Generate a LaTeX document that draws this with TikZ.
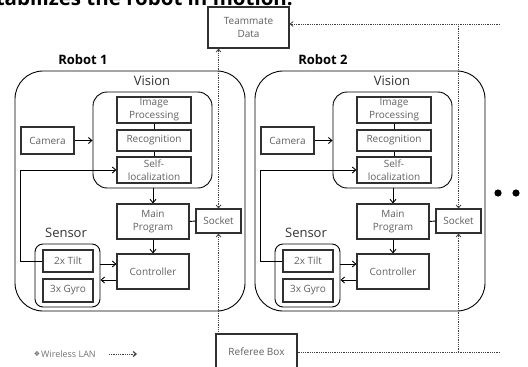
\documentclass[tikz,border=0pt]{standalone}
\usepackage{fontspec}
\setmainfont{Open Sans}
\newfontfamily\symfont{DejaVu Sans}
\usetikzlibrary{arrows.meta,calc}
\definecolor{txtgray}{HTML}{606060}
\definecolor{boxline}{HTML}{303030}
\definecolor{langray}{HTML}{404040}
\begin{document}
\begin{tikzpicture}[x=1pt,y=-1pt,
  box/.style={draw=boxline,line width=1.1pt,inner sep=0pt,align=center,text=txtgray,
    font=\fontsize{10}{13}\selectfont},
  cont/.style={draw=black,line width=0.9pt,inner sep=0pt},
  lbl/.style={text=black!80,font=\fontsize{13}{15}\selectfont,inner sep=0pt},
  rlbl/.style={text=black,font=\bfseries\fontsize{13}{15}\selectfont,inner sep=0pt},
  arr/.style={draw=black,line width=0.9pt,-{Straight Barb[length=3.5pt,width=6pt]}},
  link/.style={draw=black,line width=0.9pt},
  lan/.style={draw=langray,line width=0.8pt,densely dotted},
  lantip/.style={-{Straight Barb[length=3pt,width=5pt]}},
]
\useasboundingbox (0,0) rectangle (528,367);

% heading (cropped at the top)
\node[anchor=base east,inner sep=0pt,font=\bfseries\fontsize{20.5}{24}\selectfont] (head) at (293,5.5) {stabilizes the robot in motion.};

% teammate data and referee box
\node[box,minimum width=81pt,minimum height=41pt] (team) at (248.5,27.5) {Teammate\\Data};
\node[box,minimum width=81pt,minimum height=36pt] (ref) at (256.5,352) {Referee Box};

\foreach \i/\dx in {1/0,2/240}{
  \node[cont,rounded corners=28pt,minimum width=230pt,minimum height=240pt] (rob\i) at (130+\dx,191) {};
  \node[rlbl] (rl\i) at (83+\dx,60) {Robot \i};
  \node[cont,rounded corners=14pt,minimum width=119pt,minimum height=96pt] (vis\i) at (152.5+\dx,140) {};
  \node[lbl] (vl\i) at (152+\dx,81) {Vision};
  \node[box,minimum width=74pt,minimum height=26pt] (imgp\i) at (154+\dx,110) {Image\\Processing};
  \node[box,minimum width=74pt,minimum height=21pt] (rec\i) at (154+\dx,140.5) {Recognition};
  \node[box,minimum width=74pt,minimum height=26pt] (self\i) at (154+\dx,170) {Self-\\localization};
  \node[box,minimum width=53pt,minimum height=27pt] (cam\i) at (47.5+\dx,140.5) {Camera};
  \node[box,minimum width=72pt,minimum height=35pt] (main\i) at (153+\dx,221.5) {Main\\Program};
  \node[box,minimum width=45pt,minimum height=24pt] (sock\i) at (218.5+\dx,221) {Socket};
  \node[box,minimum width=72pt,minimum height=35pt] (ctrl\i) at (153+\dx,271.5) {Controller};
  \node[cont,rounded corners=8pt,minimum width=65pt,minimum height=63pt] (sens\i) at (67.5+\dx,275.5) {};
  \node[lbl] (sl\i) at (66+\dx,233) {Sensor};
  \node[box,minimum width=50pt,minimum height=22pt] (tilt\i) at (68+\dx,261) {2x Tilt};
  \node[box,minimum width=50pt,minimum height=23pt] (gyro\i) at (68+\dx,290.5) {3x Gyro};

  \draw[link] (imgp\i.south) -- (rec\i.north);
  \draw[link] (rec\i.south) -- (self\i.north);
  \draw[arr] (cam\i.east) -- (cam\i.east -| vis\i.west);
  \draw[arr] (tilt\i.west) -- (tilt\i.west -| cam\i.west) |- (self\i.west);
  \draw[arr] (main\i.north |- vis\i.south) -- (main\i.north);
  \draw[arr] (main\i.south) -- (ctrl\i.north);
  \draw[link] (main\i.east) -- (sock\i.west);
  \draw[arr] ($(sens\i.east |- ctrl\i.west)+(0pt,7.5pt)$) -- ($(ctrl\i.west)+(0pt,7.5pt)$);
  \draw[arr] ($(ctrl\i.west)+(0pt,-8.5pt)$) -- ($(sens\i.east |- ctrl\i.west)+(0pt,-8.5pt)$);
}

% wireless LAN links
\coordinate (lt) at (500,24);
\coordinate (lb) at (500,352);
\draw[lan,{Straight Barb[length=3pt,width=5pt]}-{Straight Barb[length=3pt,width=5pt]}] (sock1.north |- team.south) -- (sock1.north);
\draw[lan,lantip] (sock1.south |- ref.north) -- (sock1.south);
\draw[lan,lantip] (lt) -- (lt -| team.east);
\draw[lan,lantip] (sock2.north |- lt) -- (sock2.north);
\draw[lan] (ref.east) -- (lb);
\draw[lan,lantip] (sock2.south |- lb) -- (sock2.south);

% more robots
\fill[black] (498,193) circle (3.6pt);
\fill[black] (516,193) circle (3.6pt);

% legend
\node[inner sep=0pt,text=black!60,font=\symfont\fontsize{7}{8}\selectfont] (legs) at (37,354) {❖};
\node[anchor=west,inner sep=0pt,text=black!55,font=\fontsize{9}{10}\selectfont] (legt) at (41,354) {Wireless LAN};
\coordinate (la) at (109,354);
\coordinate (lc) at (137,354);
\draw[lan,-{Straight Barb[length=3pt,width=5pt,line width=1.2pt]}] (la) -- (lc);
\end{tikzpicture}
\end{document}
